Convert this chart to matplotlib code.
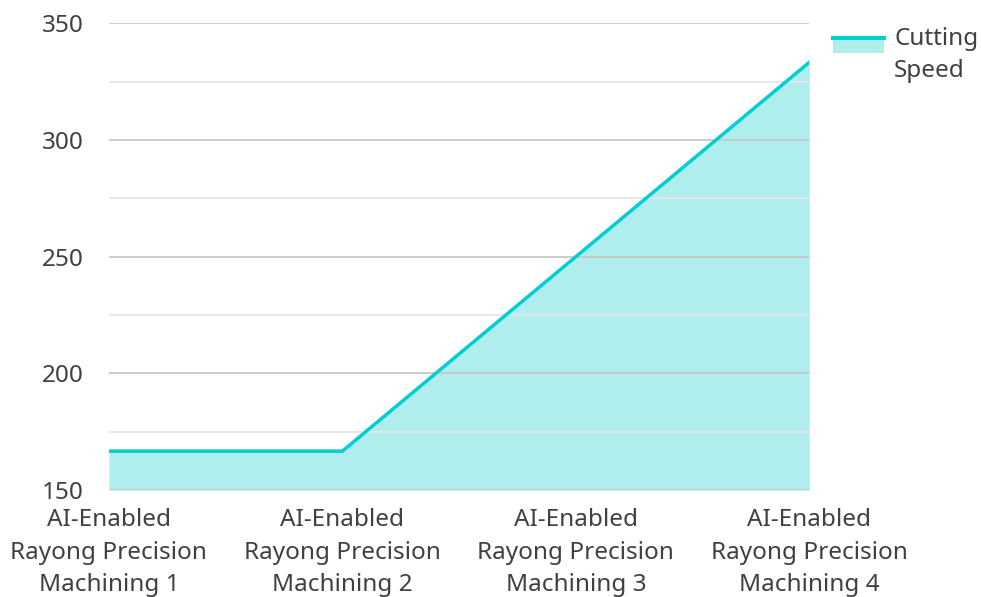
import matplotlib
matplotlib.use("Agg")
import matplotlib.pyplot as plt
from matplotlib.lines import Line2D
from matplotlib.patches import Patch, Rectangle
from matplotlib.legend_handler import HandlerBase
from matplotlib.ticker import MultipleLocator

plt.rcParams['font.family'] = ['Noto Sans', 'DejaVu Sans']

# Données
machines = [
    "AI-Enabled\nRayong Precision\nMachining 1",
    "AI-Enabled\nRayong Precision\nMachining 2",
    "AI-Enabled\nRayong Precision\nMachining 3",
    "AI-Enabled\nRayong Precision\nMachining 4",
]
cutting_speed = [166.7, 166.7, 250.0, 333.3]
serie_label = "Cutting\nSpeed"

LINE_COLOR = "#00ced1"
FILL_COLOR = "#b0eeee"
TEXT_COLOR = "#404040"


class LineOverFill(HandlerBase):
    """Poignée de légende : trait épais posé sur le haut d'une bande remplie."""
    def create_artists(self, legend, orig_handle, xdescent, ydescent,
                       width, height, fontsize, trans):
        y_top = height * 0.75 + 10
        rect = Rectangle((-xdescent, -ydescent + y_top - 11), width, 11,
                         facecolor=FILL_COLOR, edgecolor="none", transform=trans)
        line = Line2D([-xdescent, -xdescent + width], [y_top - ydescent] * 2,
                      color=LINE_COLOR, lw=3, transform=trans)
        return [rect, line]


fig = plt.figure(figsize=(9.81, 5.97), dpi=100)
ax = fig.add_axes([0.111, 0.179, 0.714, 0.782])

x = list(range(len(machines)))
ax.fill_between(x, 150, cutting_speed, color=FILL_COLOR, lw=0, zorder=2)
ax.plot(x, cutting_speed, color=LINE_COLOR, lw=2.5, zorder=3,
        solid_joinstyle="miter")

ax.set_xlim(0, len(machines) - 1)
ax.set_ylim(150, 350)
ax.yaxis.set_major_locator(MultipleLocator(50))
ax.yaxis.set_minor_locator(MultipleLocator(25))
ax.grid(which="major", axis="y", color="#c8c8c8", lw=1.3, zorder=1)
ax.grid(which="minor", axis="y", color="#e6e6e6", lw=1.3, zorder=1)
ax.set_axisbelow(False)

ax.set_xticks(x)
ax.set_xticklabels(machines, linespacing=1.47)
for s in ax.spines.values():
    s.set_visible(False)
ax.tick_params(axis="both", which="both", length=0, labelsize=17.5,
               labelcolor=TEXT_COLOR)
ax.tick_params(axis="y", pad=18)
ax.tick_params(axis="x", pad=13)

leg = ax.legend([Patch()], [serie_label], handler_map={Patch: LineOverFill()},
                loc="upper left", bbox_to_anchor=(1.02, 1.012), frameon=False,
                handlelength=2.1, handletextpad=0.42, borderaxespad=0,
                labelcolor=TEXT_COLOR, prop={"size": 17.5})
leg.get_texts()[0].set_linespacing(1.42)

fig.savefig("out.png", dpi=100)
